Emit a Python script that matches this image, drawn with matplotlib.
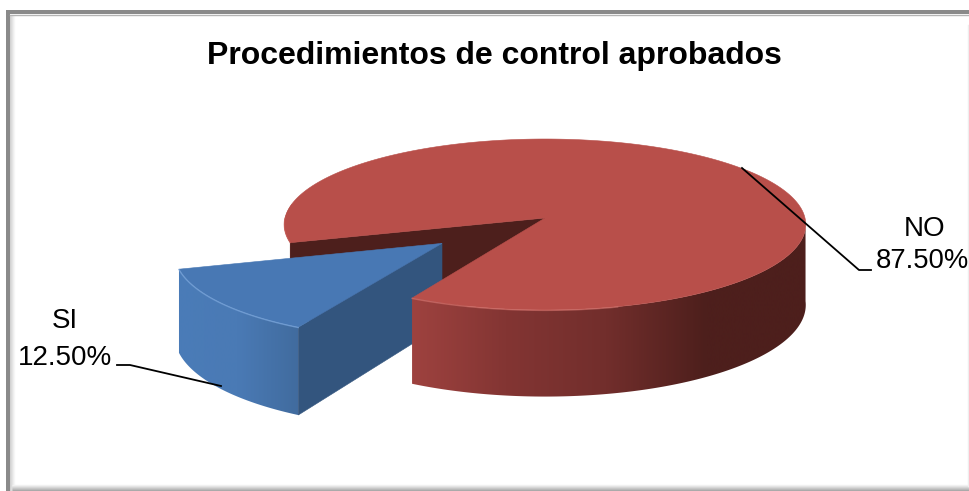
import numpy as np
import matplotlib
matplotlib.use("Agg")
import matplotlib.pyplot as plt
from matplotlib.colors import LinearSegmentedColormap
from matplotlib.patches import Polygon

title = "Procedimientos de control aprobados"
categories = ["SI", "NO"]
shares = [12.5, 87.5]

W, H = 969, 491
plt.rcParams["font.family"] = ["Liberation Sans", "DejaVu Sans"]

fig = plt.figure(figsize=(W / 100, H / 100), dpi=100)
ax = fig.add_axes([0, 0, 1, 1])
ax.set_xlim(0, W)
ax.set_ylim(H, 0)
ax.axis("off")

# Pie geometry in screen units: a tilted disc seen with mild perspective.
CX, CY, RX, RY, PERSP, DEPTH = 545, 218, 260, 85, 0.076, 80
EXPLODE = 0.485
EXPLODE_TURN = 2.0
FIRST_ANGLE = 118.5


def top(u, v):
    w = 1 - PERSP * v
    return np.column_stack([CX + RX * u / w, CY + RY * v / w])


def rim(deg, du=0.0, dv=0.0):
    t = np.radians(deg)
    return top(np.cos(t) + du, np.sin(t) + dv)


def drop(pts, dv, deg):
    # Shift points of the upper face down to the lower face.
    v = np.sin(np.radians(deg)) + dv
    out = pts.copy()
    out[:, 1] += DEPTH / (1 - PERSP * v)
    return out


ax_z = [1]


def gradient_fill(points, stops, x0, x1):
    cmap = LinearSegmentedColormap.from_list("wall", stops)
    im = ax.imshow(np.linspace(0, 1, 512)[None, :], cmap=cmap, aspect="auto",
                   extent=(x0, x1, H, 0), zorder=ax_z[0], interpolation="bilinear")
    im.set_clip_path(Polygon(points, closed=True, transform=ax.transData))
    ax_z[0] += 1


def flat(points, color):
    ax.add_patch(Polygon(points, closed=True, fc=color, ec=color, lw=0.4, zorder=ax_z[0]))
    ax_z[0] += 1


def wall(a0, a1, du=0.0, dv=0.0):
    deg = np.linspace(a0, a1, 160)
    upper = rim(deg, du, dv)
    lower = drop(upper, dv, deg)
    return np.vstack([upper, lower[::-1]])


# Sweep of each slice derived from the shares.
span_si = shares[0] / sum(shares) * 360
a_start = FIRST_ANGLE
a_end = FIRST_ANGLE + span_si
mid = np.radians((a_start + a_end) / 2 + EXPLODE_TURN)
du, dv = EXPLODE * np.cos(mid), EXPLODE * np.sin(mid)

# Frame of the chart area with its soft inner shadow.
frame = "#8a8a8a"
for i in range(5):
    shade = str(0.82 + 0.18 * i / 5)
    ax.plot([10 + i, 10 + i], [15, H], color=shade, lw=1, zorder=0.5, solid_capstyle="butt")
for i in range(6):
    ax.plot([12, W], [489.5 - i, 489.5 - i], color=str(0.66 + 0.34 * i / 6), lw=1, zorder=0.5, solid_capstyle="butt")
ax.plot([968.5, 968.5], [25, 486], color="#eeeeee", lw=1, zorder=0.5)
ax.fill_between([6, W], 10, 14, color=frame, lw=0, zorder=0.6)
ax.fill_between([6, 10], 10, H, color=frame, lw=0, zorder=0.6)
ax.plot([10, W], [14.5, 14.5], color="#b4b4b4", lw=1, zorder=0.6)

# Back part of the large slice: the left rim wall and the exposed cut face.
gradient_fill(wall(a_end, 190), ["#b9504b", "#ab4945"], 280, 300)
cut_top = rim(a_end)[0]
centre = top(0.0, 0.0)[0]
flat([centre, cut_top, cut_top + [0, DEPTH], centre + [0, DEPTH]], "#4d1f1c")

# Exploded small slice.
deg = np.linspace(a_start, a_end, 120)
apex = top(du, dv)[0]
si_rim = rim(deg, du, dv)
gradient_fill(wall(a_start, a_end, du, dv), ["#4a7cb8", "#4a7ab5", "#406a9c"], 170, 305)
front_top = si_rim[0]
front_low = drop(si_rim[:1], dv, np.array([a_start]))[0]
apex_low = apex + [0, DEPTH / (1 - PERSP * dv)]
flat([apex, front_top, front_low, apex_low], "#33557e")
flat(np.vstack([[apex], si_rim]), "#4878b4")
ax.plot(si_rim[:, 0], si_rim[:, 1] + 0.3, color="#7aa6dc", lw=1.0, alpha=0.7, zorder=ax_z[0])
ax_z[0] += 1

# Large slice: curved front wall then upper face.
gradient_fill(wall(2, a_start), ["#a04340", "#833533", "#722e2c", "#4d1f1c", "#4d1f1c"], 405, 807)
deg_no = np.linspace(a_end, a_start + 360, 500)
no_rim = rim(deg_no)
flat(np.vstack([[centre], no_rim]), "#b84f4a")
front = rim(np.linspace(a_start, 75, 60))
ax.plot(front[:, 0], front[:, 1] + 0.4, color="#dc7a74", lw=1.0, alpha=0.55, zorder=ax_z[0])
ax_z[0] += 1
left = rim(np.linspace(a_end, 180, 30))
ax.plot(left[:, 0], left[:, 1], color="#c9605a", lw=0.8, alpha=0.6, zorder=ax_z[0])
ax_z[0] += 1

# Title, labels and leader lines.
ax.text(494, 56, title, fontsize=23, fontweight="bold", ha="center", va="center", color="black", zorder=50)
ax.text(65, 321, categories[0], fontsize=20, ha="center", va="center", color="black", zorder=50)
ax.text(65, 358, f"{shares[0]:.2f}%", fontsize=20, ha="center", va="center", color="black", zorder=50)
ax.text(925, 229, categories[1], fontsize=20, ha="center", va="center", color="black", zorder=50)
ax.text(922.5, 261, f"{shares[1]:.2f}%", fontsize=19.7, ha="center", va="center", color="black", zorder=50)
ax.plot([117, 130, 221], [365, 365, 386], color="black", lw=1.3, zorder=50)
ax.plot([742, 859, 871], [168, 270, 270], color="black", lw=1.3, zorder=50)

ax.set_xlim(0, W)
ax.set_ylim(H, 0)
fig.savefig("out.png", dpi=100, facecolor="white")
